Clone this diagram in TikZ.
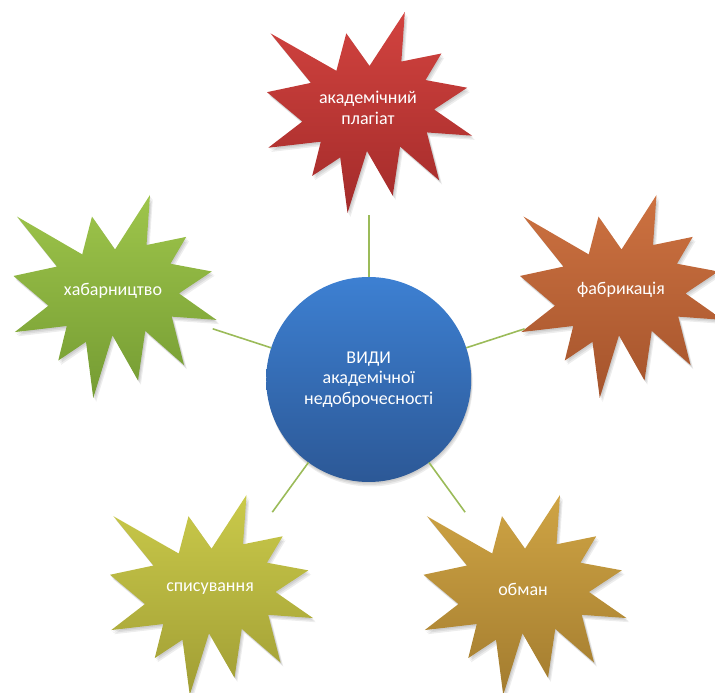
\documentclass[tikz,border=0pt]{standalone}
\usepackage{fontspec}
\setmainfont{Carlito}
\definecolor{redT}{HTML}{D2433F}
\definecolor{redB}{HTML}{A32B2A}
\definecolor{orgT}{HTML}{CD7241}
\definecolor{orgB}{HTML}{A5542C}
\definecolor{grnT}{HTML}{9EC54B}
\definecolor{grnB}{HTML}{759C33}
\definecolor{ylwT}{HTML}{CACA4A}
\definecolor{ylwB}{HTML}{A19E35}
\definecolor{gldT}{HTML}{CFA444}
\definecolor{gldB}{HTML}{A37C2F}
\definecolor{bluT}{HTML}{3D80D2}
\definecolor{bluB}{HTML}{2C5896}
\definecolor{connC}{HTML}{9BBB59}
\tikzset{
  x=1bp, y=1bp,
  sealshape/.style={insert path={(108,158) -- (145.22,216) -- (141.55,162.75) -- (183.80,171.43)
     -- (167.02,142.85) -- (210.97,134.63) -- (176.07,111.25) -- (216,83.10) -- (168.37,86.58)
     -- (181.45,35.05) -- (140.20,71.43) -- (132.47,18.63) -- (105.32,66.65) -- (84.85,0)
     -- (77.15,59.73) -- (47.62,39.83) -- (56.67,76.63) -- (1.35,70.13) -- (37.22,98.25)
     -- (0,129.85) -- (46.27,139.83) -- (3.70,193.05) -- (73.12,152.80) -- (83.52,193.05) -- cycle}},
  sealshadow/.style={fill=black, opacity=0.07},
  startext/.style={text=white, align=center, inner sep=0pt,
     font=\fontsize{18bp}{20.5bp}\selectfont},
  conn/.style={draw=connC, line width=1.6bp},
}
\newcommand\sealat[6]{%
  \begin{scope}[shift={(#1,#2)}, xscale=#3/216, yscale=#4/216]
    \fill[sealshadow, shift={(1,-1.5)}, sealshape];
    \fill[sealshadow, shift={(2,-3)}, sealshape];
    \fill[sealshadow, shift={(3,-4.5)}, sealshape];
    \shade[top color=#5, bottom color=#6, sealshape];
  \end{scope}}
\begin{document}
\begin{tikzpicture}
\useasboundingbox (0,0) rectangle (715,693);
% stars
\sealat{267}{480}{205}{201}{redT}{redB}
\sealat{13.5}{295}{203}{203}{grnT}{grnB}
\sealat{520}{295}{203}{203}{orgT}{orgB}
\sealat{110}{-2}{203}{200}{ylwT}{ylwB}
\sealat{423.5}{-2}{203}{200}{gldT}{gldB}
% star labels
\node[startext] (plag) at (368,585) {академічний\\плагіат};
\node[startext] (khab) at (113,402) {хабарництво};
\node[startext] (fabr) at (621,403) {фабрикація};
\node[startext] (spys) at (210,104) {списування};
\node[startext] (obm) at (523,104) {обман};
% centre circle shadow
\foreach \d in {1,2,3}
  \fill[black, opacity=0.07] (368.7+0.5*\d,313.5-1.5*\d) circle (102.5);
\node[circle, minimum size=205bp, inner sep=0pt, outer sep=0pt,
      top color=bluT, bottom color=bluB, startext] (center) at (368.7,313.5)
      {ВИДИ\\академічної\\недоброчесності};
% connector ends
\path (center) ++(90:164) coordinate (e1);
\path (center) ++(162:164) coordinate (e2);
\path (center) ++(18:164) coordinate (e3);
\path (center) ++(234:164) coordinate (e4);
\path (center) ++(306:164) coordinate (e5);
\draw[conn] (center) -- (e1);
\draw[conn] (center) -- (e2);
\draw[conn] (center) -- (e3);
\draw[conn] (center) -- (e4);
\draw[conn] (center) -- (e5);
\end{tikzpicture}
\end{document}
